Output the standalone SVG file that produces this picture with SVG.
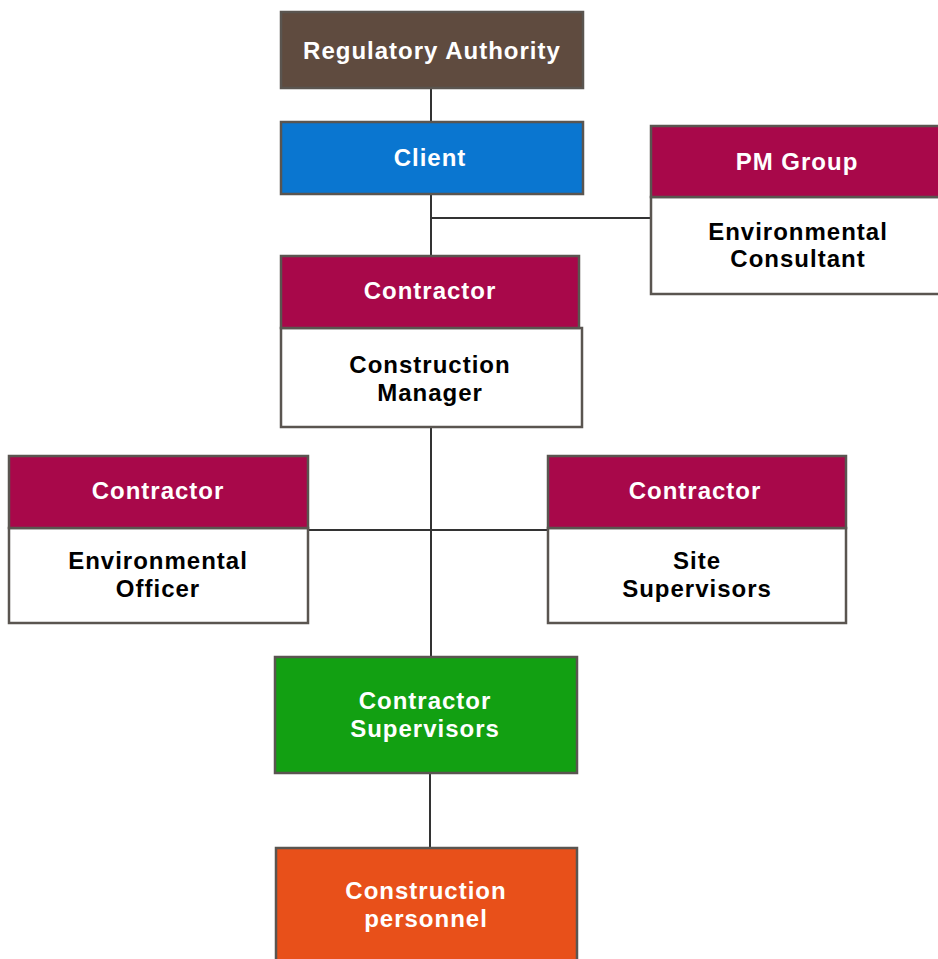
<svg xmlns="http://www.w3.org/2000/svg" width="938" height="959" viewBox="0 0 938 959">
<style>
.box{stroke:#5a5550;stroke-width:2.5}
.wt{fill:#ffffff;font-family:"Liberation Sans",Arial,sans-serif;font-weight:bold;font-size:24px;letter-spacing:1px;text-anchor:middle;dominant-baseline:central}
.bt{fill:#000000;font-family:"Liberation Sans",Arial,sans-serif;font-weight:bold;font-size:24px;letter-spacing:1px;text-anchor:middle;dominant-baseline:central}
.ln{stroke:#333;stroke-width:2;fill:none}
</style>
<rect width="938" height="959" fill="#ffffff"/>
<g id="connectors">
<line class="ln" x1="431" y1="88" x2="431" y2="122"/>
<line class="ln" x1="431" y1="194" x2="431" y2="256"/>
<line class="ln" x1="431" y1="218" x2="651" y2="218"/>
<line class="ln" x1="431" y1="427" x2="431" y2="657"/>
<line class="ln" x1="308" y1="530" x2="548" y2="530"/>
<line class="ln" x1="430" y1="773" x2="430" y2="848"/>
</g>
<g id="regulatory">
<rect class="box" x="281" y="12" width="302" height="76" fill="#5f4b3f"/>
<text class="wt" x="432" y="50">Regulatory Authority</text>
</g>
<g id="client">
<rect class="box" x="281" y="122" width="302" height="72" fill="#0a76d0"/>
<text class="wt" x="430" y="157">Client</text>
</g>
<g id="pmgroup">
<rect class="box" x="651" y="197" width="292" height="97" fill="#ffffff"/>
<rect class="box" x="651" y="126" width="292" height="71" fill="#a8084a"/>
<text class="wt" x="797" y="161">PM Group</text>
<text class="bt" x="798" y="231">Environmental</text>
<text class="bt" x="798" y="258">Consultant</text>
</g>
<g id="contractor-cm">
<rect class="box" x="281" y="328" width="301" height="99" fill="#ffffff"/>
<rect class="box" x="281" y="256" width="298" height="72" fill="#a8084a"/>
<text class="wt" x="430" y="290">Contractor</text>
<text class="bt" x="430" y="364">Construction</text>
<text class="bt" x="430" y="392">Manager</text>
</g>
<g id="contractor-eo">
<rect class="box" x="9" y="528" width="299" height="95" fill="#ffffff"/>
<rect class="box" x="9" y="456" width="299" height="72" fill="#a8084a"/>
<text class="wt" x="158" y="490">Contractor</text>
<text class="bt" x="158" y="560">Environmental</text>
<text class="bt" x="158" y="588">Officer</text>
</g>
<g id="contractor-ss">
<rect class="box" x="548" y="528" width="298" height="95" fill="#ffffff"/>
<rect class="box" x="548" y="456" width="298" height="72" fill="#a8084a"/>
<text class="wt" x="695" y="490">Contractor</text>
<text class="bt" x="697" y="560">Site</text>
<text class="bt" x="697" y="588">Supervisors</text>
</g>
<g id="contractor-supervisors">
<rect class="box" x="275" y="657" width="302" height="116" fill="#12a012"/>
<text class="wt" x="425" y="700">Contractor</text>
<text class="wt" x="425" y="728">Supervisors</text>
</g>
<g id="construction-personnel">
<rect class="box" x="276" y="848" width="301" height="120" fill="#e8501a"/>
<text class="wt" x="426" y="890">Construction</text>
<text class="wt" x="426" y="918">personnel</text>
</g>
</svg>
